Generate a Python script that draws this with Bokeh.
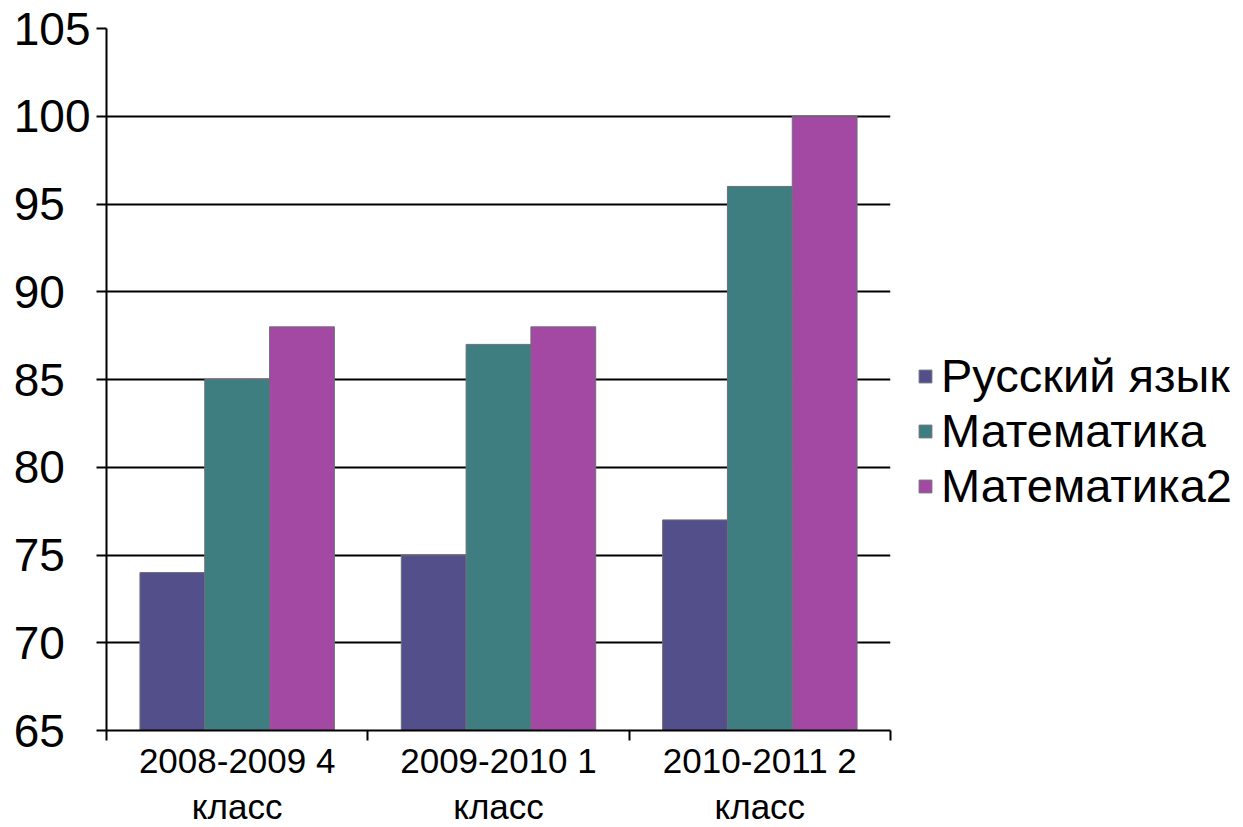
from bokeh.plotting import figure
from bokeh.models import Range1d, FixedTicker, ColumnDataSource
from bokeh.transform import dodge
from bokeh.embed import file_html
from bokeh.resources import INLINE

categories = ["2008-2009 4\nкласс", "2009-2010 1\nкласс", "2010-2011 2\nкласс"]
series_names = ["Русский язык", "Математика", "Математика2"]
russian = [74, 75, 77]
math1 = [85, 87, 96]
math2 = [88, 88, 100]
y_ticks = [65, 70, 75, 80, 85, 90, 95, 100, 105]
colors = ["#524F8A", "#3E7E80", "#A349A4"]

FONT = "Liberation Sans"
NBSP = "\u00a0"

centers = [i + 0.5 for i in range(len(categories))]
src = ColumnDataSource(dict(x=centers, r=russian, m1=math1, m2=math2))

p = figure(width=1240, height=827, output_backend="svg", toolbar_location=None,
           x_range=Range1d(0, len(categories)), y_range=Range1d(65, 105),
           min_border_left=106, min_border_top=28, min_border_bottom=97, min_border_right=350,
           frame_width=784, frame_height=702)
p.outline_line_color = None
p.background_fill_color = "white"

bw = 0.248
fields = ["r", "m1", "m2"]
offsets = [-bw, 0.0, bw]
for f, off, c, name in zip(fields, offsets, colors, series_names):
    p.vbar(x=dodge("x", off, range=p.x_range), top=f, bottom=65, width=bw, source=src,
           fill_color=c, line_color="#6E6E7A", line_width=1, legend_label=name)

# grid
p.xgrid.visible = False
p.ygrid.ticker = FixedTicker(ticks=y_ticks)
p.ygrid.grid_line_color = "black"
p.ygrid.grid_line_width = 2

# y axis (labels padded so they appear left-aligned as in the reference)
p.yaxis.ticker = FixedTicker(ticks=y_ticks)
p.yaxis.major_label_overrides = {t: (str(t) if t >= 100 else str(t) + NBSP * 2) for t in y_ticks}
p.yaxis.axis_line_color = "black"
p.yaxis.axis_line_width = 2
p.yaxis.major_tick_line_color = "black"
p.yaxis.major_tick_line_width = 2
p.yaxis.major_tick_out = 10
p.yaxis.major_tick_in = 0
p.yaxis.minor_tick_line_color = None
p.yaxis.major_label_text_font = FONT
p.yaxis.major_label_text_font_size = "46px"
p.yaxis.major_label_text_color = "black"
p.yaxis.major_label_standoff = 6

# x axis: ticks at category boundaries, labels at centers
p.xaxis.ticker = FixedTicker(ticks=centers, minor_ticks=list(range(len(categories) + 1)))
p.xaxis.major_label_overrides = {c: lab for c, lab in zip(centers, categories)}
p.xaxis.axis_line_color = "black"
p.xaxis.axis_line_width = 2
p.xaxis.major_tick_line_color = None
p.xaxis.major_tick_out = 0
p.xaxis.major_tick_in = 0
p.xaxis.minor_tick_line_color = "black"
p.xaxis.minor_tick_line_width = 2
p.xaxis.minor_tick_out = 10
p.xaxis.minor_tick_in = 0
p.xaxis.major_label_text_font = FONT
p.xaxis.major_label_text_font_size = "35px"
p.xaxis.major_label_text_color = "black"
p.xaxis.major_label_standoff = 0

# legend
leg = p.legend[0]
if leg in p.center:
    p.center.remove(leg)
leg.location = (27, 217)
leg.label_text_font = FONT
leg.label_text_font_size = "47px"
leg.label_text_color = "black"
leg.glyph_width = 16
leg.glyph_height = 16
leg.label_standoff = 8
leg.spacing = -2
leg.padding = 0
leg.margin = 0
leg.border_line_color = None
leg.background_fill_alpha = 0
p.add_layout(leg, "right")

open("out.html", "w").write(file_html(p, INLINE))
